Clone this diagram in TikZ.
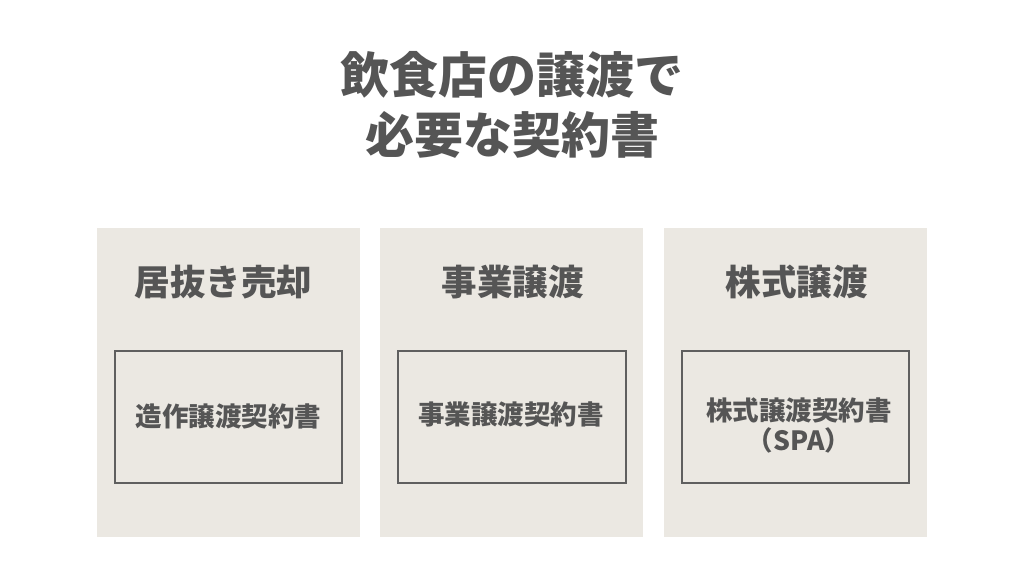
\documentclass[tikz,border=0pt]{standalone}
\usepackage{fontspec}
\newfontfamily\cjk{Noto Sans CJK JP}
\definecolor{panelbg}{HTML}{EBE8E2}
\definecolor{ink}{HTML}{555555}
\definecolor{frame}{HTML}{5F5F5F}
\begin{document}
\begin{tikzpicture}[x=1pt,y=-1pt,
  panel/.style={fill=panelbg,draw=none},
  docbox/.style={draw=frame,line width=1.8pt,fill=none},
  titletext/.style={text=ink,font=\cjk\bfseries\fontsize{49}{60}\selectfont,align=center,inner sep=0pt},
  headtext/.style={text=ink,font=\cjk\bfseries\fontsize{35.5}{42}\selectfont,inner sep=0pt},
  doctext/.style={text=ink,font=\cjk\bfseries\fontsize{26.5}{30}\selectfont,align=center,inner sep=0pt}]
\useasboundingbox[fill=white] (0,0) rectangle (1024,576);
\node[titletext] (title) at (512,105) {飲食店の譲渡で\\必要な契約書};
% panels
\path[panel] (97,228) rectangle (360,537) coordinate (p1);
\path[panel] (380,228) rectangle (643,537) coordinate (p2);
\path[panel] (664,228) rectangle (927,537) coordinate (p3);
% inner boxes
\draw[docbox] (115,351) rectangle (342,483);
\draw[docbox] (398,351) rectangle (626,483);
\draw[docbox] (682,351) rectangle (909,483);
% headings
\node[headtext] (h1) at (223.5,282) {居抜き売却};
\node[headtext] (h2) at (512.5,282) {事業譲渡};
\node[headtext] (h3) at (796.5,282) {株式譲渡};
% documents
\node[doctext] (d1) at (228.5,416) {造作譲渡契約書};
\node[doctext] (d2) at (511,414) {事業譲渡契約書};
\node[doctext] (d3) at (799,425) {株式譲渡契約書\\（SPA）};
\end{tikzpicture}
\end{document}
